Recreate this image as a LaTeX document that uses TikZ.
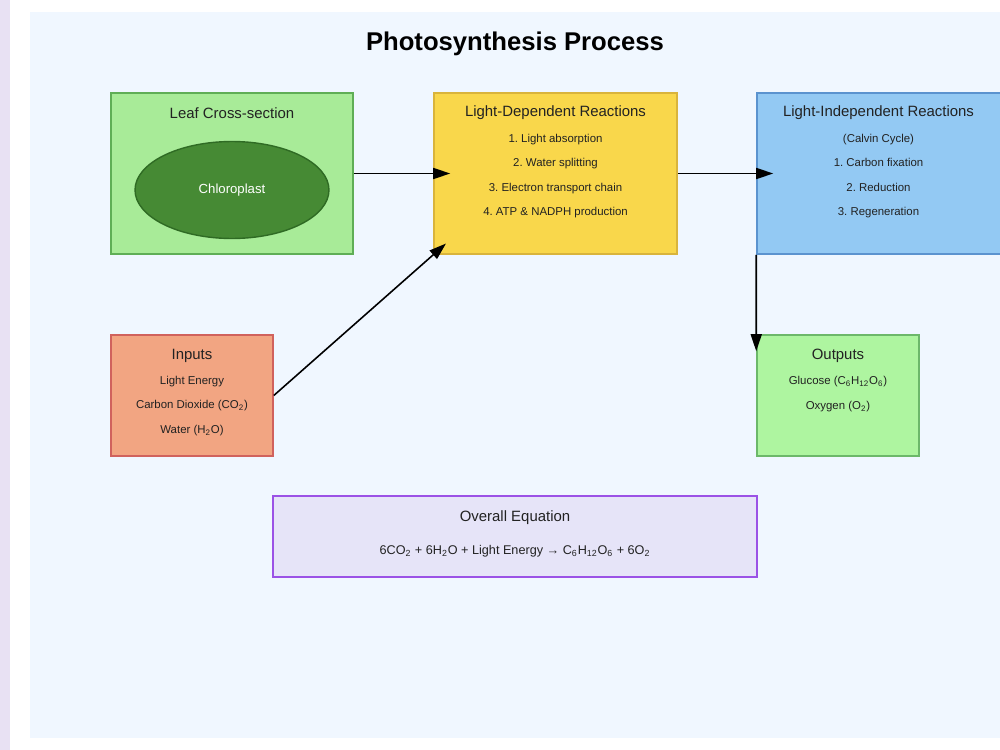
\documentclass[tikz,border=0pt]{standalone}
\usepackage{fontspec}
\setmainfont{Liberation Sans}
\usetikzlibrary{shapes, arrows.meta, positioning}
\newcommand{\chem}[1]{\textsubscript{#1}}
\frenchspacing
\definecolor{lavender}{HTML}{E8E1F3}
\definecolor{panel}{HTML}{F0F7FF}
\definecolor{textdark}{HTML}{222222}
\definecolor{leaffill}{HTML}{A8EB98}
\definecolor{leafline}{HTML}{5FAE56}
\definecolor{chlorofill}{HTML}{468A34}
\definecolor{chloroline}{HTML}{2F6B24}
\definecolor{ldfill}{HTML}{F9D74B}
\definecolor{ldline}{HTML}{D9B43C}
\definecolor{lifill}{HTML}{93C9F3}
\definecolor{liline}{HTML}{5B93CF}
\definecolor{infill}{HTML}{F2A582}
\definecolor{inline}{HTML}{D0625D}
\definecolor{outfill}{HTML}{AEF5A0}
\definecolor{outline}{HTML}{6CB86A}
\definecolor{eqfill}{HTML}{E6E4F8}
\definecolor{eqline}{HTML}{9B52E6}
\tikzstyle{stage} = [rectangle, line width=0.9pt, inner sep=0pt, minimum width=4.86cm, minimum height=3.22cm]
\tikzstyle{heading} = [text=textdark, inner sep=0pt, font=\fontsize{8.5}{10}\selectfont]
\tikzstyle{items} = [text=textdark, inner sep=0pt, align=center, font=\fontsize{6.5}{13.8}\selectfont]
\tikzstyle{flow} = [-{Triangle[length=0.34cm, width=0.22cm]}, line width=0.9pt, shorten >=-0.34cm]

\begin{document}
\begin{tikzpicture}[x=0.02cm, y=-0.02cm]
	\useasboundingbox (0,0) rectangle (1000,750);
	\fill[lavender] (0,0) rectangle (10,750);
	\fill[panel] (30,12) rectangle (1000,738);
	\node[font=\fontsize{14.6}{17}\selectfont\bfseries, inner sep=0pt] (title) at (515,44) {Photosynthesis Process};

	% leaf and chloroplast
	\node[stage, draw=leafline, fill=leaffill, minimum width=4.84cm] (leaf) at (232,173.5) {};
	\node[heading] (leaftitle) at (232,113) {Leaf Cross-section};
	\node[ellipse, draw=chloroline, fill=chlorofill, line width=0.8pt, inner sep=0pt, minimum width=3.88cm, minimum height=1.94cm, text=white, font=\fontsize{7.5}{9}\selectfont] (chloro) at (232,190) {Chloroplast};

	% light-dependent stage
	\node[stage, draw=ldline, fill=ldfill] (ld) at (555.5,173.5) {};
	\node[heading] (ldtitle) at (555.5,113) {Light-Dependent Reactions};
	\node[items] (lditems) at (555.5,176) {1. Light absorption\\2. Water splitting\\3. Electron transport chain\\4. ATP \& NADPH production};

	% light-independent stage
	\node[stage, draw=liline, fill=lifill, minimum width=4.9cm] (li) at (879.5,173.5) {};
	\node[heading] (lititle) at (878.5,113) {Light-Independent Reactions};
	\node[items] (liitems) at (878.5,176) {(Calvin Cycle)\\1. Carbon fixation\\2. Reduction\\3. Regeneration};

	% inputs and outputs
	\node[stage, draw=inline, fill=infill, minimum width=3.24cm, minimum height=2.42cm] (inputs) at (192,395.5) {};
	\node[heading] (intitle) at (192,356) {Inputs};
	\node[items] (initems) at (192,406) {Light Energy\\Carbon Dioxide (CO\chem{2})\\Water (H\chem{2}O)};

	\node[stage, draw=outline, fill=outfill, minimum width=3.24cm, minimum height=2.42cm] (outputs) at (838,395.5) {};
	\node[heading] (outtitle) at (838,356) {Outputs};
	\node[items] (outitems) at (838,394) {Glucose (C\chem{6}H\chem{12}O\chem{6})\\Oxygen (O\chem{2})};

	% overall equation
	\node[stage, draw=eqline, fill=eqfill, minimum width=9.68cm, minimum height=1.62cm] (eq) at (515,536.5) {};
	\node[heading] (eqtitle) at (515,517.5) {Overall Equation};
	\node[items, font=\fontsize{7.2}{9}\selectfont] (eqtext) at (515,551) {6CO\chem{2} + 6H\chem{2}O + Light Energy → C\chem{6}H\chem{12}O\chem{6} + 6O\chem{2}};

	% connectors
	\draw[flow] (leaf.east) -- (ld.west);
	\draw[flow] (ld.east) -- (li.west);
	\draw[flow] (inputs.east) -- (ld.south west);
	\draw[flow] (li.south west) -- (outputs.north west);
\end{tikzpicture}
\end{document}
